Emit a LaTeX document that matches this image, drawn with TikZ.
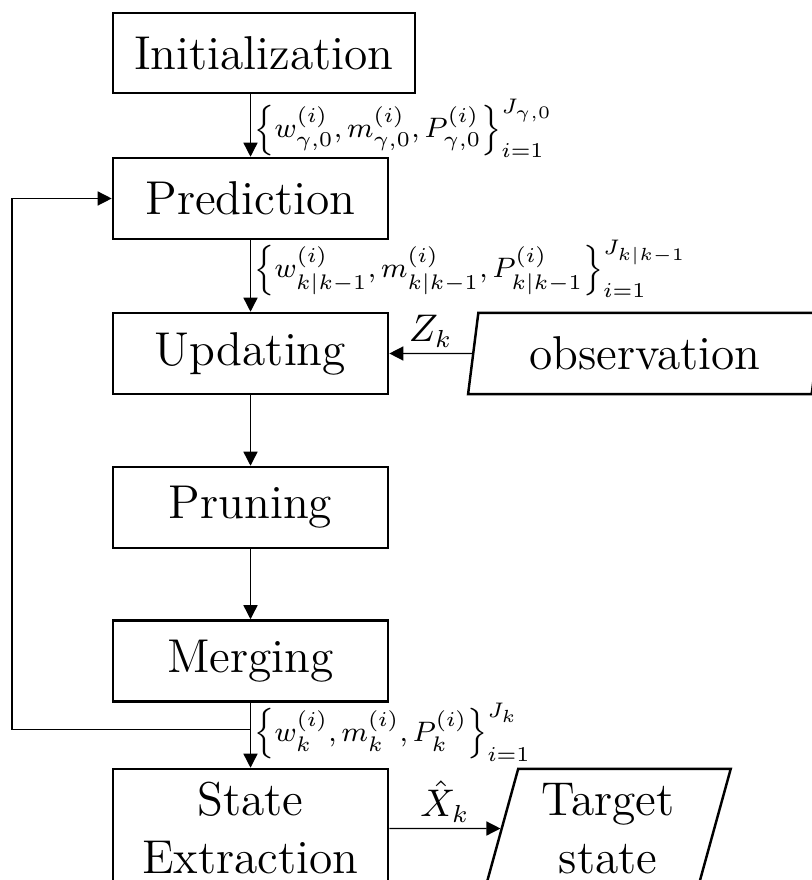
\documentclass[tikz,border=0pt]{standalone}
\usepackage{amsmath}
\usetikzlibrary{arrows.meta}
\usetikzlibrary{shapes.geometric}

\begin{document}
\begin{tikzpicture}[x=.01cm, y=-.01cm,
  block/.style={draw, line width=.7pt, minimum width=2.75cm, minimum height=.81cm,
    inner sep=0pt, align=center, font=\fontsize{13.5}{16.5}\selectfont},
  io/.style={draw, line width=.7pt, trapezium, trapezium stretches=true,
    trapezium left angle=78, trapezium right angle=102,
    inner sep=0pt, align=center, font=\fontsize{13.5}{16.5}\selectfont},
  flow/.style={line width=.4pt, -{Triangle[length=4pt,width=4pt]}},
  gmset/.style={right, inner sep=1pt, font=\fontsize{8}{9.5}\selectfont},
  sym/.style={above, inner sep=1.5pt, font=\fontsize{10.5}{12}\selectfont}]

\useasboundingbox (0,0) rectangle (811,880);

\node[block, minimum width=3.02cm, minimum height=.8cm] (init) at (264,53) {Initialization};
\node[block] (pred) at (250.5,198.5) {Prediction};
\node[block] (upd) at (250.5,353.5) {Updating};
\node[block] (prun) at (250.5,507.5) {Pruning};
\node[block] (merg) at (250.5,661) {Merging};
\node[block, minimum height=1.19cm] (extr) at (250.5,828.5) {State\\Extraction};

\node[io, minimum width=3.54cm, minimum height=.81cm] (obs) at (645,353.5) {observation};
\node[io, trapezium left angle=75, trapezium right angle=105,
  minimum width=2.46cm, minimum height=1.19cm] (targ) at (608,828.5) {Target\\state};

\draw[flow] (pred.north |- init.south) -- node[gmset, pos=.55]
  {$\Bigl\{w_{\gamma,0}^{(i)}, m_{\gamma,0}^{(i)}, P_{\gamma,0}^{(i)}\Bigr\}_{i=1}^{J_{\gamma,0}}$} (pred.north);
\draw[flow] (pred) -- node[gmset, pos=.4]
  {$\Bigl\{w_{k|k-1}^{(i)}, m_{k|k-1}^{(i)}, P_{k|k-1}^{(i)}\Bigr\}_{i=1}^{J_{k|k-1}}$} (upd);
\draw[flow] (obs) -- node[sym] {$Z_k$} (upd);
\draw[flow] (upd) -- (prun);
\draw[flow] (prun) -- (merg);
\draw[flow] (merg) -- node[gmset, pos=.45]
  {$\Bigl\{w_{k}^{(i)}, m_{k}^{(i)}, P_{k}^{(i)}\Bigr\}_{i=1}^{J_{k}}$}
  coordinate[pos=.41] (split) (extr);
\draw[flow] (split) -- ++(-238.5,0) |- (pred.west);
\draw[flow] (extr) -- node[sym] {$\hat{X}_k$} (targ);

\end{tikzpicture}
\end{document}
